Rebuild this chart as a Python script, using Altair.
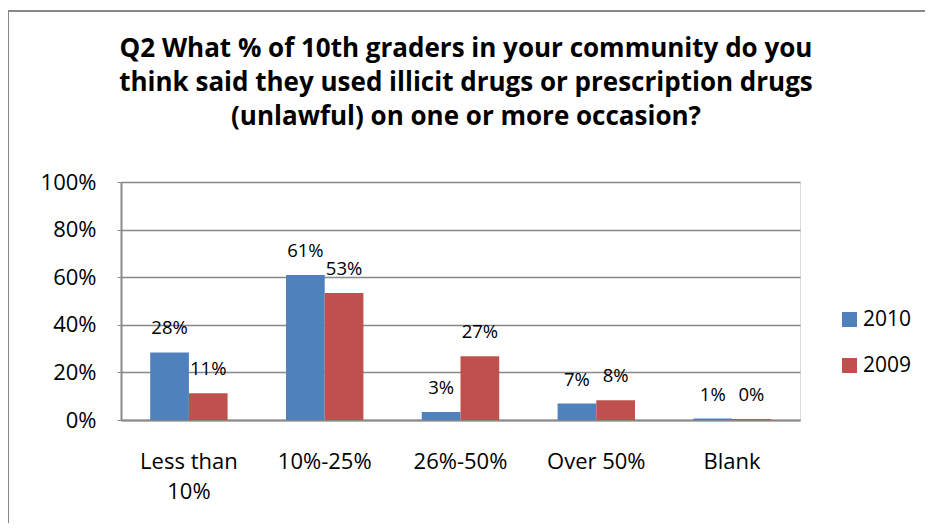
import altair as alt
import pandas as pd

categories = ["Less than 10%", "10%-25%", "26%-50%", "Over 50%", "Blank"]
years = ["2010", "2009"]
values_2010 = [28.4, 60.9, 3.4, 6.9, 0.6]
values_2009 = [11.2, 53.4, 26.8, 8.3, 0.4]
y_ticks = [0, 20, 40, 60, 80, 100]
title_lines = ["Q2 What % of 10th graders in your community do you",
               "think said they used illicit drugs or prescription drugs",
               "(unlawful) on one or more occasion?"]

rows = []
for c, a, b in zip(categories, values_2010, values_2009):
    rows.append({"category": c, "year": "2010", "value": a})
    rows.append({"category": c, "year": "2009", "value": b})
df = pd.DataFrame(rows)

FONT = "Open Sans"
W, H = 679, 238
PAD = {"left": 113, "top": 174, "right": 125, "bottom": 103}

x_enc = alt.X("category:N", sort=categories, title=None,
              scale=alt.Scale(paddingInner=0.43, paddingOuter=0.215),
              axis=alt.Axis(labelAngle=0, labelFontSize=22, labelFont=FONT,
                            labelColor="#000", labelPadding=31, labelLineHeight=30,
                            labelBaseline="top",
                            labelExpr="datum.label == 'Less than 10%' ? ['Less than', '10%'] : datum.label",
                            ticks=False, domainColor="#888", domainWidth=2))
y_enc = alt.Y("value:Q", title=None,
              scale=alt.Scale(domain=[0, 100], nice=False),
              axis=alt.Axis(values=y_ticks, labelExpr="datum.value + '%'",
                            labelFontSize=22, labelFont=FONT, labelColor="#000",
                            labelPadding=21, tickSize=4, tickColor="#888",
                            domainColor="#888", domainWidth=2,
                            grid=True, gridColor="#888", gridWidth=1.5))
color_enc = alt.Color("year:N", sort=years,
                      scale=alt.Scale(domain=years, range=["#4F81BD", "#C0504D"]),
                      legend=alt.Legend(title=None, orient="none", legendX=718, legendY=127,
                                        symbolType="square", symbolSize=225,
                                        symbolStrokeWidth=0, labelFontSize=21,
                                        labelFont=FONT, labelColor="#000",
                                        rowPadding=24, labelOffset=3))

base = alt.Chart(df)

bars = base.mark_bar().encode(
    x=x_enc, y=y_enc, color=color_enc,
    xOffset=alt.XOffset("year:N", sort=years),
)

labels = base.transform_calculate(
    lab="round(datum.value) + '%'"
).mark_text(fontSize=18.5, font=FONT, color="#000", dy=-24, baseline="middle").encode(
    x=alt.X("category:N", sort=categories),
    xOffset=alt.XOffset("year:N", sort=years),
    y="value:Q",
    text="lab:N",
)

one = alt.Data(values=[{"t": "\n".join(title_lines)}])

title = alt.Chart(one).mark_text(
    font=FONT, fontSize=26, fontWeight="bold", color="#000",
    lineBreak="\n", lineHeight=34, baseline="middle", align="center",
).encode(x=alt.value(345), y=alt.value(-133), text="t:N")

top_rule = alt.Chart(one).mark_rule(color="#888", strokeWidth=2).encode(
    x=alt.value(-114), x2=alt.value(W + PAD["right"]), y=alt.value(-171))
left_rule = alt.Chart(one).mark_rule(color="#888", strokeWidth=2).encode(
    x=alt.value(-113), y=alt.value(-172), y2=alt.value(H + PAD["bottom"]))

chart = alt.layer(top_rule, left_rule, bars, labels, title).properties(
    width=W, height=H,
    autosize=alt.AutoSizeParams(type="none"),
    padding=PAD,
).configure_view(stroke=None).configure(background="white")

chart.save("out.html", embed_options={"renderer": "svg", "actions": False})
